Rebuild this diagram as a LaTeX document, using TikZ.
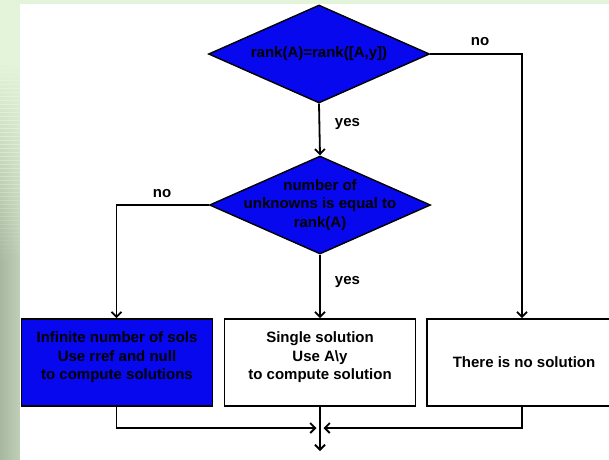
\documentclass[tikz,border=0pt]{standalone}
\usepackage{fontspec}
\setmainfont{Liberation Sans}
\usetikzlibrary{shapes.geometric,arrows.meta}
\definecolor{paneblue}{RGB}{8,8,238}
\definecolor{framegreen}{RGB}{227,244,218}
\definecolor{stripdark}{RGB}{168,184,160}
\definecolor{striplight}{RGB}{192,208,184}
\tikzset{
  flow/.style={line width=1.8pt, draw=black},
  arr/.style={flow, -{Straight Barb[length=5pt,width=10pt]}},
  decision/.style={diamond, draw=black, line width=1.4pt, fill=paneblue,
    inner sep=0pt, minimum width=221pt, minimum height=98pt},
  outcome/.style={rectangle, draw=black, line width=1.8pt, inner sep=0pt,
    minimum width=191pt, minimum height=87pt},
  txt/.style={font=\fontsize{15}{18.5}\selectfont\bfseries, align=center, text=black},
  tag/.style={font=\fontsize{15}{18}\selectfont\bfseries, text=black, inner sep=0pt}
}
\begin{document}
\begin{tikzpicture}[x=1pt, y=-1pt]
  \useasboundingbox (0,0) rectangle (609,459);
  \clip (0,0) rectangle (609,459);
  % page frame: pale green, with a left strip turning grey-green lower down
  \fill[framegreen] (0,0) rectangle (609,459);
  \shade[left color=stripdark, right color=striplight] (0,60) rectangle (20,459);
  % soften the strip into the pale green towards the top
  \foreach \i in {0,...,49} {
    \fill[framegreen, opacity={1-\i/50}] (0,60+4*\i) rectangle (20,64.5+4*\i);
  }
  \fill[white] (20,4) rectangle (609,459);

  % decisions
  \node[decision, label={[txt]center:rank(A)=rank([A,y])}] (d1) at (319,54) {};
  \node[decision, label={[txt]center:number of\\unknowns is equal to\\rank(A)}] (d2) at (320,205) {};

  % outcomes
  \node[outcome, fill=paneblue, label={[txt, yshift=5pt]center:Infinite number of sols\\Use rref and null\\to compute solutions}] (b1) at (117,362.5) {};
  \node[outcome, fill=white, label={[txt, yshift=5pt]center:Single solution\\Use A\textbackslash y\\to compute solution}] (b2) at (320,362.5) {};
  \node[outcome, fill=white, minimum width=200pt, label={[txt, xshift=-3pt]center:There is no solution}] (b3) at (527,362.5) {};

  % junction below the outcomes
  \coordinate (jl) at (316.5,428);
  \coordinate (jr) at (323.5,428);
  \coordinate (exit) at (320,451);

  % connectors
  \draw[arr] (d1.east) -| (b3.north -| 522,0);
  \draw[arr] (d1.south) -- (d2.north);
  \draw[arr] (d2.west) -| (b1.north -| 116.5,0);
  \draw[arr] (d2.south) -- (b2.north);
  \draw[arr] (b1.south -| 116.5,0) |- (jl);
  \draw[arr] (b3.south -| 522,0) |- (jr);
  \draw[arr] (b2.south) -- (exit);

  % branch tags
  \node[tag] (n1) at (480,42) {no};
  \node[tag] (y1) at (347.5,124) {yes};
  \node[tag] (n2) at (162,194) {no};
  \node[tag] (y2) at (347.5,282) {yes};
\end{tikzpicture}
\end{document}
